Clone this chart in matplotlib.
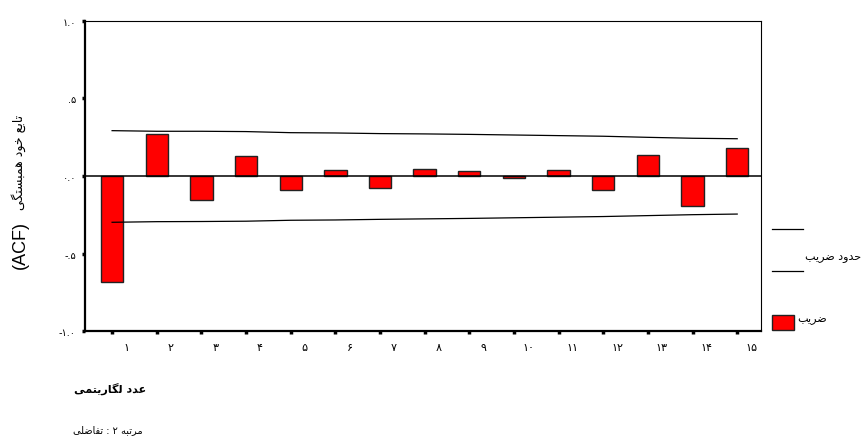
import matplotlib
matplotlib.use("Agg")
import matplotlib.pyplot as plt
from matplotlib.transforms import ScaledTranslation
from matplotlib.lines import Line2D
from matplotlib.patches import Rectangle

lags = list(range(1, 16))
acf = [-0.684, 0.272, -0.153, 0.129, -0.090, 0.039, -0.077, 0.045, 0.032, -0.010,
       0.039, -0.090, 0.135, -0.191, 0.180]
upper = [0.292, 0.288, 0.288, 0.286, 0.279, 0.277, 0.273, 0.271, 0.268, 0.264,
         0.260, 0.256, 0.249, 0.243, 0.240]
lower = [-0.298, -0.294, -0.293, -0.291, -0.285, -0.283, -0.279, -0.276, -0.273, -0.269,
         -0.265, -0.261, -0.255, -0.249, -0.245]
xtick_labels = ["۱", "۲", "۳", "۴", "۵", "۶", "۷", "۸", "۹", "۱۰", "۱۱", "۱۲", "۱۳", "۱۴", "۱۵"]
yticks = [-1.0, -0.5, 0.0, 0.5, 1.0]
ytick_labels = ["-۱.۰", "-.۵", "۰.۰", ".۵", "۱.۰"]

# matplotlib has no arabic shaping: pick presentation forms by hand (iso, fin, ini, med)
FORMS = {
    "ا": "\uFE8D\uFE8E", "د": "\uFEA9\uFEAA", "ر": "\uFEAD\uFEAE", "و": "\uFEED\uFEEE",
    "ب": "\uFE8F\uFE90\uFE91\uFE92", "ت": "\uFE95\uFE96\uFE97\uFE98",
    "ح": "\uFEA1\uFEA2\uFEA3\uFEA4", "خ": "\uFEA5\uFEA6\uFEA7\uFEA8",
    "س": "\uFEB1\uFEB2\uFEB3\uFEB4", "ض": "\uFEBD\uFEBE\uFEBF\uFEC0",
    "ع": "\uFEC9\uFECA\uFECB\uFECC", "ف": "\uFED1\uFED2\uFED3\uFED4",
    "ل": "\uFEDD\uFEDE\uFEDF\uFEE0", "م": "\uFEE1\uFEE2\uFEE3\uFEE4",
    "ه": "\uFEE9\uFEEA\uFEEB\uFEEC", "ی": "\uFBFC\uFBFD\uFBFE\uFBFF",
    "گ": "\uFB92\uFB93\uFB94\uFB95",
}


def shape(word):
    out = []
    for i, c in enumerate(word):
        if c not in FORMS:
            out.append(c)
            continue
        prev = word[i - 1] if i > 0 else ""
        nxt = word[i + 1] if i + 1 < len(word) else ""
        jp = len(FORMS.get(prev, "")) == 4
        jn = len(FORMS[c]) == 4 and nxt in FORMS
        f = FORMS[c]
        if jp and jn:
            out.append(f[3])
        elif jp:
            out.append(f[1])
        elif jn:
            out.append(f[2])
        else:
            out.append(f[0])
    return "".join(reversed(out))


def rtl(text):
    # right-to-left: last word goes leftmost
    return " ".join(shape(w) for w in reversed(text.split(" ")))


fa = ["DejaVu Sans"]

fig = plt.figure(figsize=(8.66, 4.39), dpi=100)
ax = fig.add_axes([0.0982, 0.2430, 0.7806, 0.7076])

ax.bar(lags, acf, width=0.5, color="#ff0000", edgecolor="#222222", linewidth=1.0, zorder=2)
ax.plot(lags, upper, color="black", lw=0.9, zorder=3)
ax.plot(lags, lower, color="black", lw=0.9, zorder=3)
ax.axhline(0, color="black", lw=1.1, zorder=3)

ax.set_xlim(0.394, 15.534)
ax.set_ylim(-1.0, 1.0)

ax.set_yticks(yticks)
ax.set_yticklabels(ytick_labels, family=fa, fontsize=7)
ax.set_xticks(lags)
ax.set_xticklabels(xtick_labels, family=fa, fontsize=8)
ax.tick_params(axis="both", direction="out", length=2.5, width=2.5, pad=4)
ax.tick_params(axis="x", pad=5)
for lab in ax.get_xticklabels():
    lab.set_transform(lab.get_transform() + ScaledTranslation(0.14, 0, fig.dpi_scale_trans))

for side in ["left", "bottom"]:
    ax.spines[side].set_linewidth(1.6)
for side in ["top", "right"]:
    ax.spines[side].set_linewidth(0.8)

# y label: persian part + (ACF)
fig.text(0.021, 0.629, rtl("تابع خود همبستگی"), rotation=90,
         ha="center", va="center", family=fa, fontsize=9)
fig.text(0.023, 0.442, "(ACF)", rotation=90, ha="center", va="center",
         family="Liberation Sans", fontsize=13)

fig.text(0.127, 0.114, rtl("عدد لگاریتمی"), ha="center", va="center",
         family=fa, fontsize=8, fontweight="bold")
fig.text(0.124, 0.021, rtl("مرتبه ۲ : تفاضلی"), ha="center", va="center",
         family=fa, fontsize=7)

# legend drawn by hand
fig.add_artist(Line2D([0.8915, 0.9273], [0.4761, 0.4761], color="black", lw=0.9))
fig.add_artist(Line2D([0.8915, 0.9273], [0.3804, 0.3804], color="black", lw=0.9))
fig.text(0.929, 0.4146, rtl("حدود ضریب"), ha="left", va="center", family=fa, fontsize=8)
fig.add_artist(Rectangle((0.8915, 0.2460), 0.0254, 0.0342, transform=fig.transFigure,
                         facecolor="#ff0000", edgecolor="#222222", lw=1.0))
fig.text(0.921, 0.2710, rtl("ضریب"), ha="left", va="center", family=fa, fontsize=8)

fig.savefig("out.png", dpi=100)
